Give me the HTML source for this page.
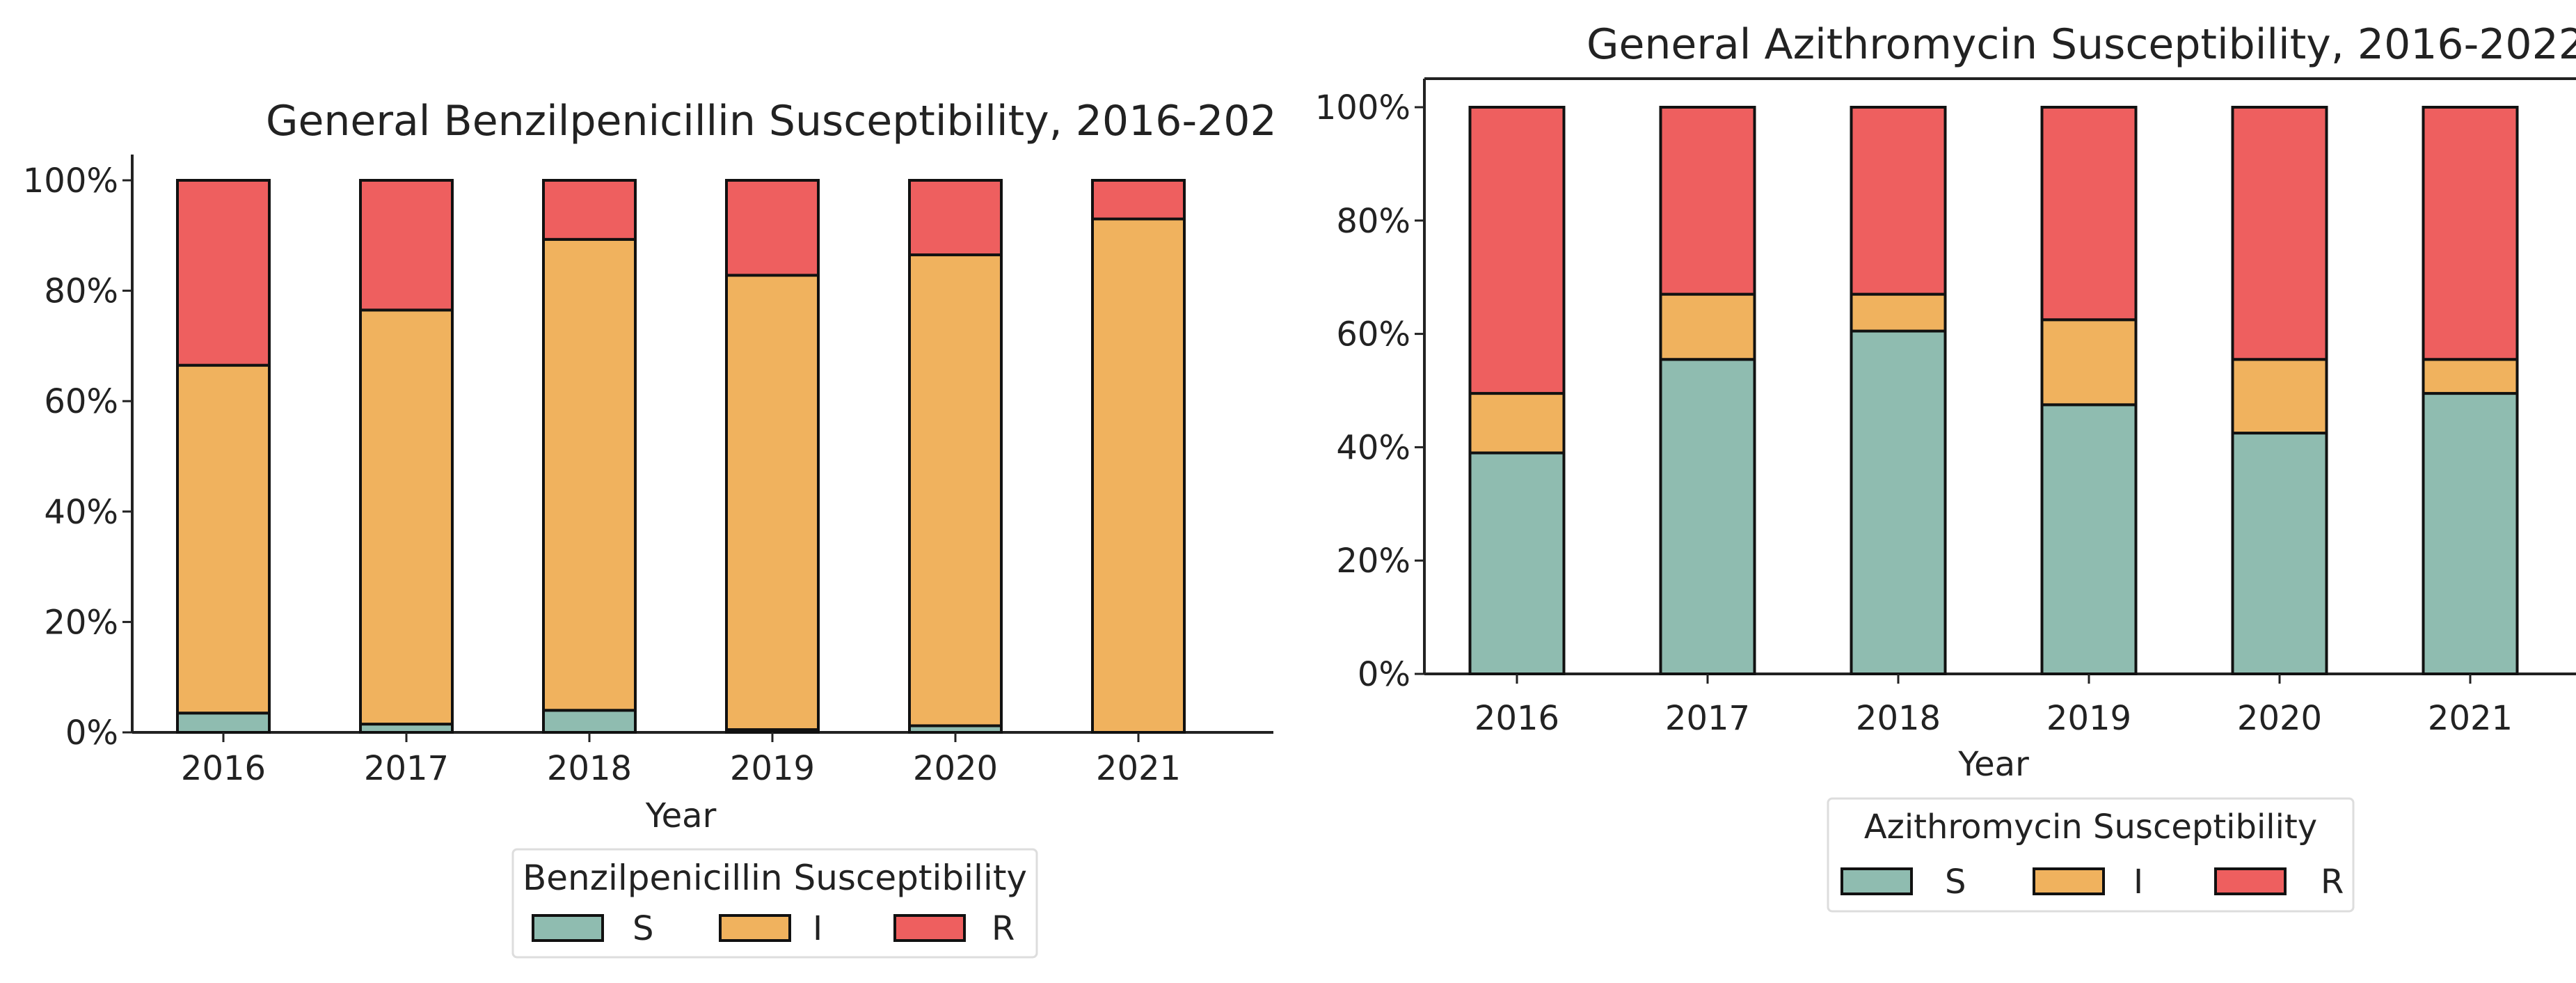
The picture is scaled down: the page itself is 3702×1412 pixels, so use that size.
<!DOCTYPE html>
<html><head><meta charset="utf-8"><style>
html,body{margin:0;padding:0;background:#fff;overflow:hidden;}
svg{display:block;font-family:"DejaVu Sans","Liberation Sans",sans-serif;}
</style></head><body>
<svg id="svg" width="3702" height="1412" viewBox="0 0 3702 1412" xmlns="http://www.w3.org/2000/svg">
<defs><clipPath id="clipL"><rect x="0" y="0" width="1836" height="1412"/></clipPath></defs>
<rect x="0" y="0" width="3702" height="1412" fill="#fff"/>
<g id="left"></g>
<g id="right"></g>
</svg>
<script>
const years = ["2016","2017","2018","2019","2020","2021"];
const yTicks = [0,20,40,60,80,100];
const yTickLabels = ["0%","20%","40%","60%","80%","100%"];
const benzS = [3.5,1.5,4.0,0.5,1.2,0.0];
const benzI = [63.0,75.0,85.3,82.3,85.3,93.0];
const benzR = [33.5,23.5,10.7,17.2,13.5,7.0];
const aziS = [39.0,55.5,60.5,47.5,42.5,49.5];
const aziI = [10.5,11.5,6.5,15.0,13.0,6.0];
const aziR = [50.5,33.0,33.0,37.5,44.5,44.5];
const colors = {S:"#8fbcb0", I:"#f0b25e", R:"#ee5f5f"};
const NS="http://www.w3.org/2000/svg";
function mk(parent, tag, attrs, text){
  const e=document.createElementNS(NS,tag);
  for(const k in attrs) e.setAttribute(k,attrs[k]);
  if(text!==undefined) e.textContent=text;
  parent.appendChild(e); return e;
}
function drawChart(g, cfg, S, I, R){
  const yScale = v => cfg.y0 - (cfg.y0 - cfg.y100) * v / 100;
  const xScale = i => cfg.x0 + i * cfg.step;
  const tAttrs = {x:cfg.titleX,y:cfg.titleY,"font-size":cfg.titleSize,fill:"#222"};
  if(cfg.clip) tAttrs["clip-path"]="url(#"+cfg.clip+")";
  const t = mk(g,"text",tAttrs,cfg.title);
  
  
  let sp = mk(g,"line",{x1:cfg.axX,y1:cfg.spTop,x2:cfg.axX,y2:cfg.y0,stroke:"#222","stroke-width":4});
  
  
  sp = mk(g,"line",{x1:cfg.axX,y1:cfg.y0,x2:cfg.axRight,y2:cfg.y0,stroke:"#222","stroke-width":4});
  
  
  if(cfg.topSpine){
    sp = mk(g,"line",{x1:cfg.axX,y1:cfg.spTop,x2:cfg.axRight,y2:cfg.spTop,stroke:"#222","stroke-width":4});
    
    
  }
  yTicks.forEach((v,k)=>{
    const y=yScale(v);
    const tk = mk(g,"line",{x1:cfg.axX-14,y1:y,x2:cfg.axX,y2:y,stroke:"#222","stroke-width":3});
    
    
    const lb = mk(g,"text",{x:cfg.axX-20,y:y+17,"font-size":48,"text-anchor":"end",fill:"#222"},yTickLabels[k]);
    
    
  });
  years.forEach((yr,i)=>{
    const cx=xScale(i), w=cfg.bw;
    let base=0;
    [["S",S[i]],["I",I[i]],["R",R[i]]].forEach(([key,v])=>{
      const yTop=yScale(base+v), yBot=yScale(base);
      const r = mk(g,"rect",{x:cx-w/2,y:yTop,width:w,height:Math.max(0,yBot-yTop),fill:colors[key],stroke:"#111","stroke-width":4});
      
      
      base+=v;
    });
    const tk = mk(g,"line",{x1:cx,y1:cfg.y0,x2:cx,y2:cfg.y0+14,stroke:"#222","stroke-width":3});
    
    
    const lb = mk(g,"text",{x:cx,y:cfg.tickLabelY,"font-size":48,"text-anchor":"middle",fill:"#222"},yr);
    
    
  });
  const xt = mk(g,"text",{x:xScale(2.5),y:cfg.yearY,"font-size":48,"text-anchor":"middle",fill:"#222"},"Year");
  
  
  const L=cfg.leg;
  const lg = mk(g,"g",{});
  
  
  mk(lg,"rect",{x:L.x,y:L.y,width:L.w,height:L.h,rx:6,fill:"#fff",stroke:"#ddd","stroke-width":3});
  const lt = mk(lg,"text",{x:L.x+L.w/2,y:L.titleY,"font-size":L.titleSize,"text-anchor":"middle",fill:"#222"},cfg.legTitle);
  
  
  ["S","I","R"].forEach((k,j)=>{
    const p = mk(lg,"rect",{x:L.px[j],y:L.py,width:100,height:36,fill:colors[k],stroke:"#111","stroke-width":4});
    
    
    const tx = mk(lg,"text",{x:L.lx[j],y:L.py+35,"font-size":48,fill:"#222"},k);
    
    
  });
}
drawChart(document.getElementById('left'),{
  title:"General Benzilpenicillin Susceptibility, 2016-2022",titleX:382,titleY:194,titleSize:60,clip:"clipL",
  axX:190,axRight:1830,spTop:222,y0:1052,y100:259,x0:321,step:263,bw:132,topSpine:false,
  tickLabelY:1120,yearY:1188,legTitle:"Benzilpenicillin Susceptibility",
  leg:{x:737,y:1220,w:753,h:155,titleY:1278,titleSize:50,px:[766,1035,1286],py:1315,lx:[909,1168,1425]}
},benzS,benzI,benzR);
drawChart(document.getElementById('right'),{
  title:"General Azithromycin Susceptibility, 2016-2022",titleX:2280,titleY:84,titleSize:60,clip:null,
  axX:2047,axRight:3702,spTop:113,y0:968,y100:154,x0:2180,step:274,bw:135,topSpine:true,
  tickLabelY:1048,yearY:1114,legTitle:"Azithromycin Susceptibility",
  leg:{x:2627,y:1147,w:755,h:162,titleY:1204,titleSize:48,px:[2647,2923,3184],py:1248,lx:[2795,3066,3335]}
},aziS,aziI,aziR);
</script>
</body></html>
